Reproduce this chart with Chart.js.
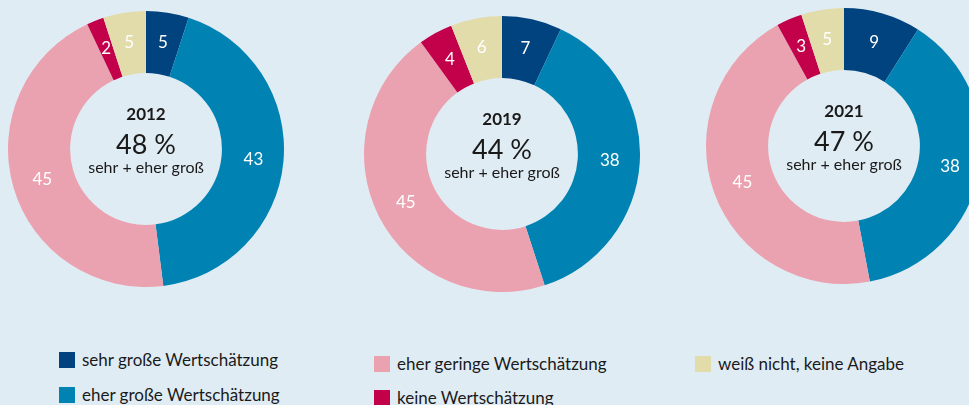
<!DOCTYPE html>
<html lang="de">
<head>
<meta charset="utf-8">
<script src="https://cdn.jsdelivr.net/npm/chart.js@4"></script>
<style>
  html, body { margin: 0; padding: 0; }
  body {
    width: 969px; height: 405px; overflow: hidden; position: relative;
    background: #e0ecf4; font-family: Lato, sans-serif; color: #1a1a1a;
  }
  canvas.donut { position: absolute; }
  .legend-item { position: absolute; display: flex; align-items: center; font-size: 17px; line-height: 16px; white-space: nowrap; }
  .legend-item span.box { width: 16px; height: 16px; margin-right: 7px; display: inline-block; flex: none; }
</style>
</head>
<body>
<canvas id="c2012" class="donut" width="276" height="276" style="left:8px;top:11px"></canvas>
<canvas id="c2019" class="donut" width="276" height="276" style="left:364px;top:16px"></canvas>
<canvas id="c2021" class="donut" width="276" height="276" style="left:706px;top:8px"></canvas>
<div id="legend"></div>
<script>
// categories, clockwise from the top
const categories = [
  "sehr große Wertschätzung",
  "eher große Wertschätzung",
  "eher geringe Wertschätzung",
  "keine Wertschätzung",
  "weiß nicht, keine Angabe"
];
const colors = ["#00437f", "#0083b3", "#eba2b0", "#c3004a", "#e2dcab"];

const years = ["2012", "2019", "2021"];
const values2012 = [5, 43, 45, 2, 5];
const values2019 = [7, 38, 45, 4, 6];
const values2021 = [9, 38, 45, 3, 5];
const totals = ["48 %", "44 %", "47 %"];
const subtitle = "sehr + eher groß";

// legend layout (column, row)
const legendPos = [
  { x: 59, y: 352 }, { x: 59, y: 387 },
  { x: 374, y: 356 }, { x: 374, y: 390 },
  { x: 695, y: 356 }
];

// white numbers inside the segments + text in the hole
const donutText = {
  id: "donutText",
  afterDatasetsDraw(chart, args, opts) {
    const ctx = chart.ctx;
    const meta = chart.getDatasetMeta(0);
    ctx.save();
    ctx.fillStyle = "#ffffff";
    ctx.font = "17px Lato";
    ctx.textAlign = "center";
    ctx.textBaseline = "middle";
    meta.data.forEach((arc, i) => {
      const mid = (arc.startAngle + arc.endAngle) / 2;
      const r = (arc.innerRadius + arc.outerRadius) / 2 + 1;
      ctx.fillText(chart.data.datasets[0].data[i], arc.x + Math.cos(mid) * r, arc.y + Math.sin(mid) * r);
    });
    const cx = meta.data[0].x, cy = meta.data[0].y;
    ctx.fillStyle = "#1a1a1a";
    ctx.font = "bold 17px Lato";
    ctx.fillText(opts.year, cx, cy - 34);
    ctx.font = "27px Lato";
    ctx.fillText(opts.total, cx, cy - 4);
    ctx.font = "16px Lato";
    ctx.fillText(subtitle, cx, cy + 19);
    ctx.restore();
  }
};

function makeDonut(id, data, year, total) {
  new Chart(document.getElementById(id), {
    type: "doughnut",
    data: {
      labels: categories,
      datasets: [{ data: data, backgroundColor: colors, borderWidth: 0 }]
    },
    options: {
      responsive: false,
      animation: false,
      cutout: "55%",
      layout: { padding: 0 },
      plugins: {
        legend: { display: false },
        tooltip: { enabled: false },
        donutText: { year: year, total: total }
      }
    },
    plugins: [donutText]
  });
}

makeDonut("c2012", values2012, years[0], totals[0]);
makeDonut("c2019", values2019, years[1], totals[1]);
makeDonut("c2021", values2021, years[2], totals[2]);

const legend = document.getElementById("legend");
categories.forEach((cat, i) => {
  const el = document.createElement("div");
  el.className = "legend-item";
  el.style.left = legendPos[i].x + "px";
  el.style.top = legendPos[i].y + "px";
  el.innerHTML = `<span class="box" style="background:${colors[i]}"></span>${cat}`;
  legend.appendChild(el);
});
</script>
</body>
</html>
